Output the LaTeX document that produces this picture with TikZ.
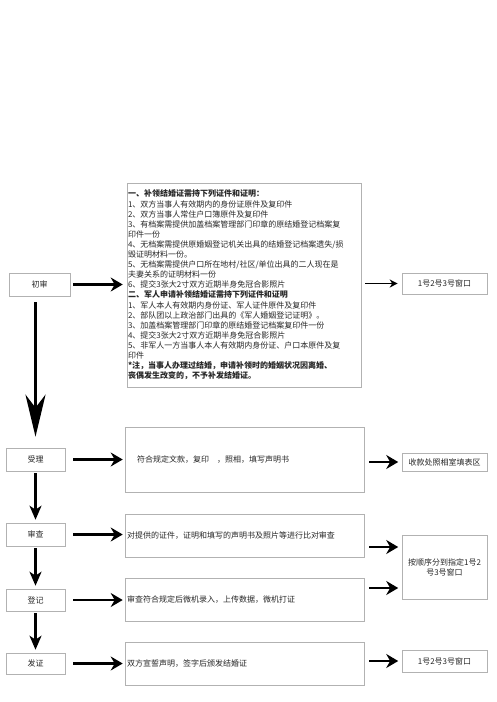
\documentclass[tikz,border=0pt]{standalone}
\usepackage{fontspec}
\setmainfont{Noto Sans CJK SC}
\usetikzlibrary{arrows.meta,positioning,calc}

\begin{document}
\begin{tikzpicture}[x=1pt, y=-1pt,
    every node/.style={font=\fontsize{8}{10.1}\selectfont, align=center, inner sep=1pt, text=black!85},
    stepbox/.style={draw=gray!60, line width=0.6pt, minimum width=59pt, minimum height=23pt},
    infobox/.style={draw=gray!60, line width=0.6pt, minimum width=239pt, minimum height=43pt, text width=235pt, align=left},
    winbox/.style={draw=gray!60, line width=0.6pt, minimum width=85pt, minimum height=21pt},
    arr/.style={-{Stealth[length=12pt, width=14pt, inset=4pt]}, line width=2.6pt},
    tarr/.style={-{Stealth[length=8pt, width=8pt, inset=2.5pt]}, line width=1.3pt},
    darr/.style={-{Stealth[length=14pt, width=12pt, inset=4pt]}, line width=2.4pt},
    bigarr/.style={-{Stealth[length=42pt, width=20pt, inset=13pt]}, line width=3.6pt}
]
\useasboundingbox (0,0) rectangle (496,702);

% Left column -- steps
\node[stepbox, minimum width=61pt] (chushen) at (39.5, 284.5) {初审};
\node[stepbox] (shouli)  at (35.5, 459.5) {受理};
\node[stepbox] (shencha) at (35.5, 534.5) {审查};
\node[stepbox, minimum height=22pt] (dengji) at (35.5, 600) {登记};
\node[stepbox, minimum height=21pt] (fazheng) at (35.5, 663.5) {发证};

% Middle column -- what is needed / done
\node[infobox, minimum width=234pt, text width=232pt, minimum height=204pt] (req) at (244, 285) {%
\textbf{一、补领结婚证需持下列证件和证明：}\\
1、双方当事人有效期内的身份证原件及复印件\\
2、双方当事人常住户口簿原件及复印件\\
3、有档案需提供加盖档案管理部门印章的原结婚登记档案复\\
印件一份\\
4、无档案需提供原婚姻登记机关出具的结婚登记档案遗失/损\\
毁证明材料一份。\\
5、无档案需提供户口所在地村/社区/单位出具的二人现在是\\
夫妻关系的证明材料一份\\
6、提交3张大2寸双方近期半身免冠合影照片\\
\textbf{二、军人申请补领结婚证需持下列证件和证明}\\
1、军人本人有效期内身份证、军人证件原件及复印件\\
2、部队团以上政治部门出具的《军人婚姻登记证明》。\\
3、加盖档案管理部门印章的原结婚登记档案复印件一份\\
4、提交3张大2寸双方近期半身免冠合影照片\\
5、非军人一方当事人本人有效期内身份证、户口本原件及复\\
印件\\
\textbf{*注，当事人办理过结婚，申请补领时的婚姻状况因离婚、}\\
\textbf{丧偶发生改变的，不予补发结婚证。}};
\node[infobox, minimum height=65pt] (shouli_do) at (244.5, 459.5) {\hspace*{10pt}符合规定文款，复印　，照相，填写声明书};
\node[infobox] (shencha_do) at (244.5, 535.5) {对提供的证件，证明和填写的声明书及照片等进行比对审查};
\node[infobox] (dengji_do)  at (244.5, 599.5) {审查符合规定后微机录入，上传数据，微机打证};
\node[infobox] (fazheng_do) at (244.5, 663.5) {双方宣誓声明，签字后颁发结婚证};

% Right column -- where to go
\node[winbox] (win_a) at (444.5, 283.5) {1号2号3号窗口};
\node[winbox, minimum height=18pt] (photo) at (444.5, 462) {收款处照相室填表区};
\node[winbox, minimum height=64pt] (win_b) at (444.5, 567) {按顺序分到指定1号2\\号3号窗口};
\node[winbox, minimum height=22pt] (win_c) at (444.5, 661) {1号2号3号窗口};

% Arrows -- steps to contents
\draw[arr, shorten <=3pt, shorten >=4pt] (chushen.east) -- (chushen.east -| req.west);
\draw[arr, shorten <=8pt, shorten >=2pt] (shouli.east) -- (shouli_do.west);
\draw[arr, shorten <=8pt, shorten >=2pt] (shencha.east) -- (shencha.east -| shencha_do.west);
\draw[arr, shorten <=8pt, shorten >=2pt] (dengji.east) -- (dengji.east -| dengji_do.west);
\draw[arr, shorten <=8pt, shorten >=2pt] (fazheng.east) -- (fazheng_do.west);

% Arrows -- contents to windows
\draw[tarr, shorten <=4pt, shorten >=4pt] (req.east |- win_a) -- (win_a.west);
\draw[arr, shorten <=5pt, shorten >=3.5pt] (shouli_do.east |- photo) -- (photo.west);
\draw[arr, shorten <=5pt, shorten >=3.5pt] ([yshift=-11.5pt]shencha_do.east) -- ([yshift=-11.5pt]shencha_do.east -| win_b.west);
\draw[arr, shorten <=5pt, shorten >=3.5pt] ([yshift=11.5pt]dengji_do.east) -- ([yshift=11.5pt]dengji_do.east -| win_b.west);
\draw[arr, shorten <=5pt, shorten >=3.5pt] (fazheng_do.east |- win_c) -- (win_c.west);

% Arrows -- down the steps
\draw[bigarr, shorten <=6pt, shorten >=11pt] (shouli.north |- chushen.south) -- (shouli.north);
\draw[darr, shorten <=2pt, shorten >=3pt] (shouli) -- (shencha);
\draw[darr, shorten <=2pt, shorten >=3pt] (shencha) -- (dengji);
\draw[darr, shorten <=2pt, shorten >=3pt] (dengji) -- (fazheng);
\end{tikzpicture}
\end{document}
